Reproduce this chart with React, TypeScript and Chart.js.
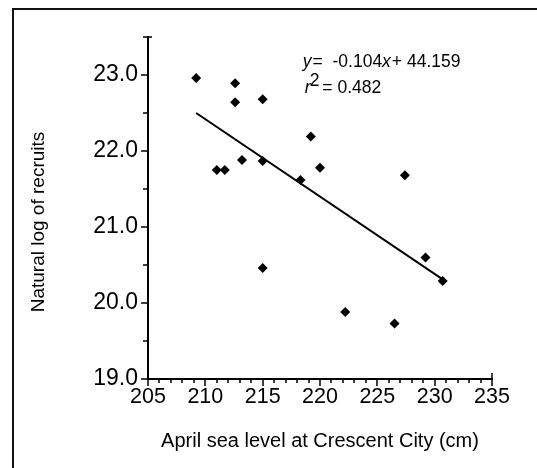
import React, { useEffect, useRef } from "react";
import { Chart, registerables } from "chart.js";

Chart.register(...registerables);

// Data
const seaLevel = [209.2, 212.6, 212.6, 215.0, 219.2, 211.0, 211.7, 213.2, 215.0, 218.3, 220.0, 227.4, 215.0, 222.2, 226.5, 229.2, 230.7];
const logRecruits = [22.96, 22.89, 22.64, 22.68, 22.19, 21.75, 21.75, 21.88, 21.87, 21.62, 21.78, 21.68, 20.46, 19.88, 19.73, 20.60, 20.29];

// Regression line end points (as drawn)
const fitX = [209.2, 230.7];
const fitY = [22.5, 20.31];

const xMajorTicks = [205, 210, 215, 220, 225, 230, 235];
const yMajorTicks = [19, 20, 21, 22, 23];

const xTitle = "April sea level at Crescent City (cm)";
const yTitle = "Natural log of recruits";
const eqSlope = "-0.104";
const eqIntercept = "44.159";
const rSquared = "0.482";

const FONT = "'Liberation Sans', Arial, Helvetica, sans-serif";

const framePlugin = {
  id: "frame",
  beforeDraw(chart: any) {
    const ctx = chart.ctx;
    ctx.save();
    ctx.fillStyle = "#ffffff";
    ctx.fillRect(0, 0, chart.width, chart.height);
    ctx.strokeStyle = "#111";
    ctx.lineWidth = 2;
    ctx.beginPath();
    ctx.moveTo(13, chart.height + 5);
    ctx.lineTo(13, 9);
    ctx.lineTo(chart.width + 5, 9);
    ctx.stroke();
    ctx.restore();
  },
};

const ticksPlugin = {
  id: "customTicks",
  afterDraw(chart: any) {
    const ctx = chart.ctx;
    const xs = chart.scales.x;
    const ys = chart.scales.y;
    const area = chart.chartArea;
    ctx.save();
    ctx.strokeStyle = "#000";
    ctx.lineWidth = 1.5;
    ctx.beginPath();
    for (let v = xs.min; v <= xs.max + 1e-9; v += 1) {
      const px = Math.round(xs.getPixelForValue(v));
      const major = xMajorTicks.includes(v);
      const len = major ? 7 : 4;
      ctx.moveTo(px, area.bottom);
      ctx.lineTo(px, area.bottom + len);
    }
    // end cap at the right of the x axis
    const pxEnd = Math.round(xs.getPixelForValue(xs.max));
    ctx.moveTo(pxEnd, area.bottom);
    ctx.lineTo(pxEnd, area.bottom - 6);
    for (let v = ys.min; v <= ys.max + 1e-9; v += 0.5) {
      const py = Math.round(ys.getPixelForValue(v));
      const major = yMajorTicks.includes(v);
      const len = major ? 7 : 5;
      ctx.moveTo(area.left, py);
      ctx.lineTo(area.left - len, py);
    }
    // end cap at the top of the y axis
    const pyEnd = Math.round(ys.getPixelForValue(ys.max));
    ctx.moveTo(area.left, pyEnd);
    ctx.lineTo(area.left + 4, pyEnd);
    ctx.stroke();

    // y axis title
    ctx.save();
    ctx.translate(39, (area.top + area.bottom) / 2 + 14);
    ctx.rotate(-Math.PI / 2);
    ctx.font = `19px ${FONT}`;
    ctx.fillStyle = "#000";
    ctx.textAlign = "center";
    ctx.textBaseline = "middle";
    ctx.fillText(yTitle, 0, 0);
    ctx.restore();

    // regression annotation
    const x0 = xs.getPixelForValue(218.5);
    const y1 = ys.getPixelForValue(23.2) + 7;
    const fs = 17.5;
    ctx.fillStyle = "#000";
    ctx.textBaseline = "alphabetic";
    ctx.textAlign = "left";
    let cx = x0;
    ctx.font = `italic ${fs}px ${FONT}`;
    ctx.fillText("y", cx, y1);
    cx += ctx.measureText("y").width + 1;
    ctx.font = `${fs}px ${FONT}`;
    const s1 = "=  " + eqSlope;
    ctx.fillText(s1, cx, y1);
    cx += ctx.measureText(s1).width;
    ctx.font = `italic ${fs}px ${FONT}`;
    ctx.fillText("x", cx, y1);
    cx += ctx.measureText("x").width + 1;
    ctx.font = `${fs}px ${FONT}`;
    ctx.fillText("+ " + eqIntercept, cx, y1);

    const y2 = y1 + 26;
    cx = x0 + 2;
    ctx.font = `italic ${fs}px ${FONT}`;
    ctx.fillText("r", cx, y2);
    cx += ctx.measureText("r").width;
    ctx.font = `${fs}px ${FONT}`;
    ctx.fillText("2", cx - 1, y2 - 7);
    cx += ctx.measureText("2").width + 2;
    ctx.fillText("= " + rSquared, cx, y2);
    ctx.restore();
  },
};

export default function App() {
  const canvasRef = useRef<HTMLCanvasElement | null>(null);

  useEffect(() => {
    document.body.style.margin = "0";
    const canvas = canvasRef.current;
    if (!canvas) return;
    const chart = new Chart(canvas, {
      type: "scatter",
      data: {
        datasets: [
          {
            type: "scatter",
            label: "Recruits",
            data: seaLevel.map((x, i) => ({ x, y: logRecruits[i] })),
            pointStyle: "rectRot",
            pointRadius: 5,
            pointHoverRadius: 5,
            backgroundColor: "#000",
            borderColor: "#000",
            borderWidth: 0,
          },
          {
            type: "line",
            label: "Fit",
            data: fitX.map((x, i) => ({ x, y: fitY[i] })),
            borderColor: "#000",
            borderWidth: 2,
            pointRadius: 0,
            fill: false,
          } as any,
        ],
      },
      options: {
        responsive: false,
        animation: false,
        devicePixelRatio: 1,
        layout: { padding: { left: 0, top: 37, right: 45, bottom: 0 } },
        plugins: {
          legend: { display: false },
          tooltip: { enabled: false },
        },
        scales: {
          x: {
            type: "linear",
            min: 205,
            max: 235,
            afterFit: (s: any) => {
              s.height = 89;
            },
            ticks: {
              stepSize: 1,
              autoSkip: false,
              maxRotation: 0,
              color: "#000",
              padding: -1,
              font: { family: FONT, size: 21.5 },
              callback: (v: any) => (xMajorTicks.includes(Number(v)) ? String(v) : ""),
            },
            grid: {
              display: true,
              drawOnChartArea: false,
              drawTicks: true,
              tickLength: 6,
              tickColor: "rgba(0,0,0,0)",
            },
            border: { display: true, color: "#000", width: 2 },
            title: {
              display: true,
              text: xTitle,
              color: "#000",
              font: { family: FONT, size: 20 },
              padding: { top: 0, bottom: 15 },
            },
          },
          y: {
            type: "linear",
            min: 19,
            max: 23.5,
            afterFit: (s: any) => {
              s.width = 148;
            },
            ticks: {
              stepSize: 0.5,
              autoSkip: false,
              color: "#000",
              padding: 4,
              font: { family: FONT, size: 23 },
              callback: (v: any) => (yMajorTicks.includes(Number(v)) ? Number(v).toFixed(1) : ""),
            },
            grid: {
              display: true,
              drawOnChartArea: false,
              drawTicks: true,
              tickLength: 6,
              tickColor: "rgba(0,0,0,0)",
            },
            border: { display: true, color: "#000", width: 2 },
            title: { display: false },
          },
        },
      },
      plugins: [framePlugin, ticksPlugin],
    });
    return () => chart.destroy();
  }, []);

  return (
    <div style={{ position: "fixed", left: 0, top: 0, width: 537, height: 468, background: "#fff" }}>
      <canvas ref={canvasRef} width={537} height={468} style={{ width: 537, height: 468 }} />
    </div>
  );
}
